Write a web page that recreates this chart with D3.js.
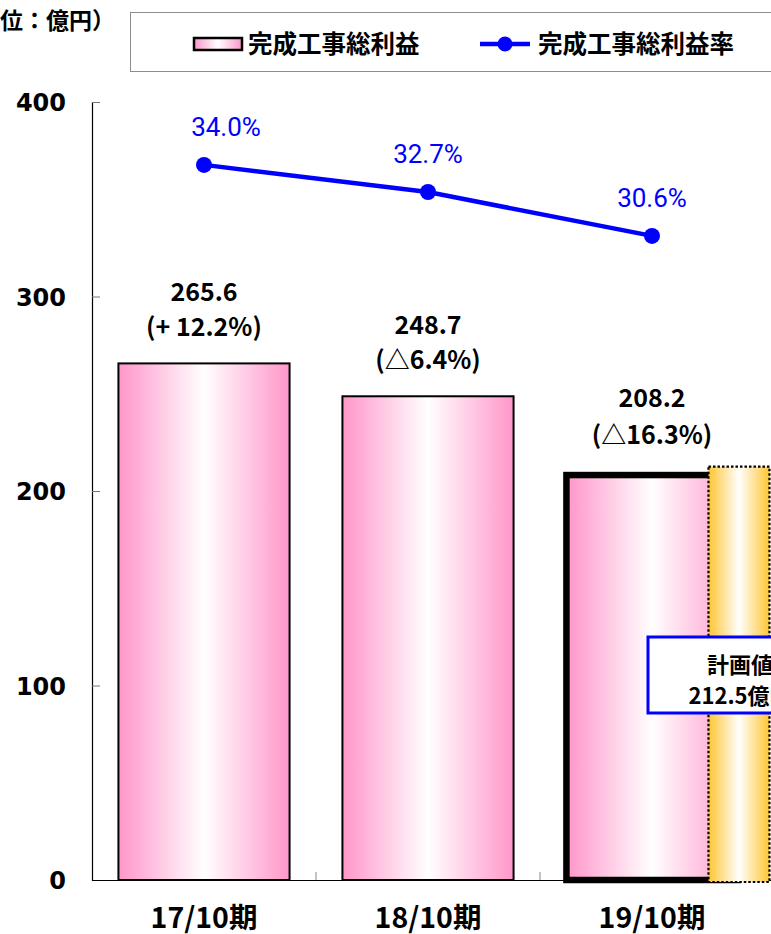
<!DOCTYPE html>
<html>
<head>
<meta charset="utf-8">
<script src="https://cdn.jsdelivr.net/npm/d3@7"></script>
<style>
  html, body { margin: 0; padding: 0; background: #fff; overflow: hidden; }
  svg { display: block; }
</style>
</head>
<body>
<svg id="chart" width="771" height="934"></svg>
<script>
// 完成工事総利益（億円）と完成工事総利益率（%）
const periods = ["17/10期", "18/10期", "19/10期"];
const grossProfit = [265.6, 248.7, 208.2];
const changeLabels = ["(+ 12.2%)", "(△6.4%)", "(△16.3%)"];
const profitRate = [34.0, 32.7, 30.6];
const planValue = 212.5;
const planLabel = ["計画値", "212.5億円"];
const yTicks = [0, 100, 200, 300, 400];
const unitLabel = "（単位：億円）";
const legendLabels = ["完成工事総利益", "完成工事総利益率"];

const JP = "'Noto Sans CJK JP', 'Noto Sans', sans-serif";
const svg = d3.select("#chart");

// scales
const x = d3.scaleBand().domain(periods).range([92, 764])
  .paddingInner(0.236).paddingOuter(0.118);
const y = d3.scaleLinear().domain([0, 400]).range([880, 102]);
const yRate = d3.scaleLinear().domain([0, 37.25]).range([875, 97]);

// gradients
const defs = svg.append("defs");
function hGrad(id, edge) {
  const g = defs.append("linearGradient").attr("id", id)
    .attr("x1", "0%").attr("x2", "100%").attr("y1", "0%").attr("y2", "0%");
  [[0, edge], [0.5, "#ffffff"], [1, edge]].forEach(([o, c]) =>
    g.append("stop").attr("offset", o).attr("stop-color", c));
}
hGrad("pinkGrad", "#ff96ca");
hGrad("orangeGrad", "#ffc633");

// unit label (runs off the left edge of the page)
svg.append("text").attr("x", -46).attr("y", 29)
  .attr("font-family", JP).attr("font-weight", "bold").attr("font-size", 23)
  .text(unitLabel);

// legend
const lg = svg.append("g");
lg.append("rect").attr("x", 130.5).attr("y", 12.5).attr("width", 700).attr("height", 59)
  .attr("fill", "#fff").attr("stroke", "#8c8c8c").attr("stroke-width", 1);
lg.append("rect").attr("x", 194).attr("y", 38).attr("width", 48).attr("height", 12)
  .attr("fill", "url(#pinkGrad)").attr("stroke", "#000").attr("stroke-width", 2.5);
lg.append("text").attr("x", 248).attr("y", 53)
  .attr("font-family", JP).attr("font-weight", "bold").attr("font-size", 24.5)
  .text(legendLabels[0]);
lg.append("line").attr("x1", 480).attr("x2", 530).attr("y1", 44).attr("y2", 44)
  .attr("stroke", "#0000ff").attr("stroke-width", 4.5);
lg.append("circle").attr("cx", 505).attr("cy", 44).attr("r", 7.5).attr("fill", "#0000ff");
lg.append("text").attr("x", 538).attr("y", 53)
  .attr("font-family", JP).attr("font-weight", "bold").attr("font-size", 24.5)
  .text(legendLabels[1]);

// y axis
const yAxis = svg.append("g").attr("transform", "translate(92,0)")
  .call(d3.axisRight(y).tickValues(yTicks).tickSize(8).tickFormat(""));
yAxis.select(".domain").attr("stroke", "#000").attr("stroke-width", 1.2);
yAxis.selectAll(".tick line").attr("stroke", "#777");
svg.append("g").selectAll("text").data(yTicks).join("text")
  .attr("x", 66).attr("y", d => y(d) + 9).attr("text-anchor", "end")
  .attr("font-family", "'DejaVu Sans', sans-serif").attr("font-weight", "bold")
  .attr("font-size", 24).text(d => d);

// x axis baseline and category separators
svg.append("line").attr("x1", 92).attr("x2", 771).attr("y1", 880.5).attr("y2", 880.5)
  .attr("stroke", "#000").attr("stroke-width", 1.2);
const seps = periods.slice(1).map(p => x(p) - x.step() * x.paddingInner() / 2);
svg.append("g").selectAll("line").data(seps).join("line")
  .attr("x1", d => d).attr("x2", d => d).attr("y1", 880).attr("y2", 872)
  .attr("stroke", "#888").attr("stroke-width", 1);

// bars
const bars = svg.append("g");
bars.selectAll("rect").data(grossProfit).join("rect")
  .attr("x", (d, i) => x(periods[i]))
  .attr("y", d => y(d))
  .attr("width", x.bandwidth())
  .attr("height", d => y(0) - y(d))
  .attr("fill", "url(#pinkGrad)")
  .attr("stroke", "#000")
  .attr("stroke-width", (d, i) => i === periods.length - 1 ? 6.5 : 2);

// plan value bar (dotted, overlapping the latest period)
const last = periods[periods.length - 1];
const planX = x(last) + x.bandwidth() * 0.83;
svg.append("rect")
  .attr("x", planX).attr("y", y(planValue))
  .attr("width", 61).attr("height", y(0) - y(planValue) + 2)
  .attr("fill", "url(#orangeGrad)")
  .attr("stroke", "#000").attr("stroke-width", 2.2).attr("stroke-dasharray", "2.5,2");

// bar value labels
const lab = svg.append("g").attr("font-family", JP).attr("font-weight", "bold")
  .attr("font-size", 25).attr("text-anchor", "middle");
lab.selectAll("text.v").data(grossProfit).join("text").attr("class", "v")
  .attr("x", (d, i) => x(periods[i]) + x.bandwidth() / 2)
  .attr("y", (d, i) => y(d) - (i === 2 ? 68 : 62))
  .text(d => d.toFixed(1));
lab.selectAll("text.c").data(changeLabels).join("text").attr("class", "c")
  .attr("x", (d, i) => x(periods[i]) + x.bandwidth() / 2)
  .attr("y", (d, i) => y(grossProfit[i]) - (i === 2 ? 31 : 27))
  .text(d => d);

// profit rate line
const cx = (d, i) => x(periods[i]) + x.bandwidth() / 2;
svg.append("path").datum(profitRate)
  .attr("d", d3.line().x(cx).y(d => yRate(d)))
  .attr("fill", "none").attr("stroke", "#0000ff").attr("stroke-width", 4.5);
svg.append("g").selectAll("circle").data(profitRate).join("circle")
  .attr("cx", cx).attr("cy", d => yRate(d)).attr("r", 8).attr("fill", "#0000ff");
const rateDx = [22, 0, 0];
svg.append("g").selectAll("text").data(profitRate).join("text")
  .attr("x", (d, i) => cx(d, i) + rateDx[i])
  .attr("y", d => yRate(d) - 29)
  .attr("text-anchor", "middle")
  .attr("font-family", "Roboto, sans-serif").attr("font-size", 26)
  .attr("fill", "#0000ff")
  .text(d => d.toFixed(1) + "%");

// plan callout box (extends past the right edge)
const box = svg.append("g");
box.append("rect").attr("x", 648).attr("y", 637).attr("width", 180).attr("height", 76)
  .attr("fill", "#fff").attr("stroke", "#0000ff").attr("stroke-width", 3);
box.selectAll("text").data(planLabel).join("text")
  .attr("x", 740).attr("y", (d, i) => 673 + i * 31)
  .attr("text-anchor", "middle")
  .attr("font-family", JP).attr("font-weight", "bold").attr("font-size", 22)
  .text(d => d);

// category labels
svg.append("g").selectAll("text").data(periods).join("text")
  .attr("x", p => x(p) + x.bandwidth() / 2).attr("y", 928)
  .attr("text-anchor", "middle")
  .attr("font-family", JP).attr("font-weight", "bold").attr("font-size", 28.5)
  .text(p => p);
</script>
</body>
</html>
